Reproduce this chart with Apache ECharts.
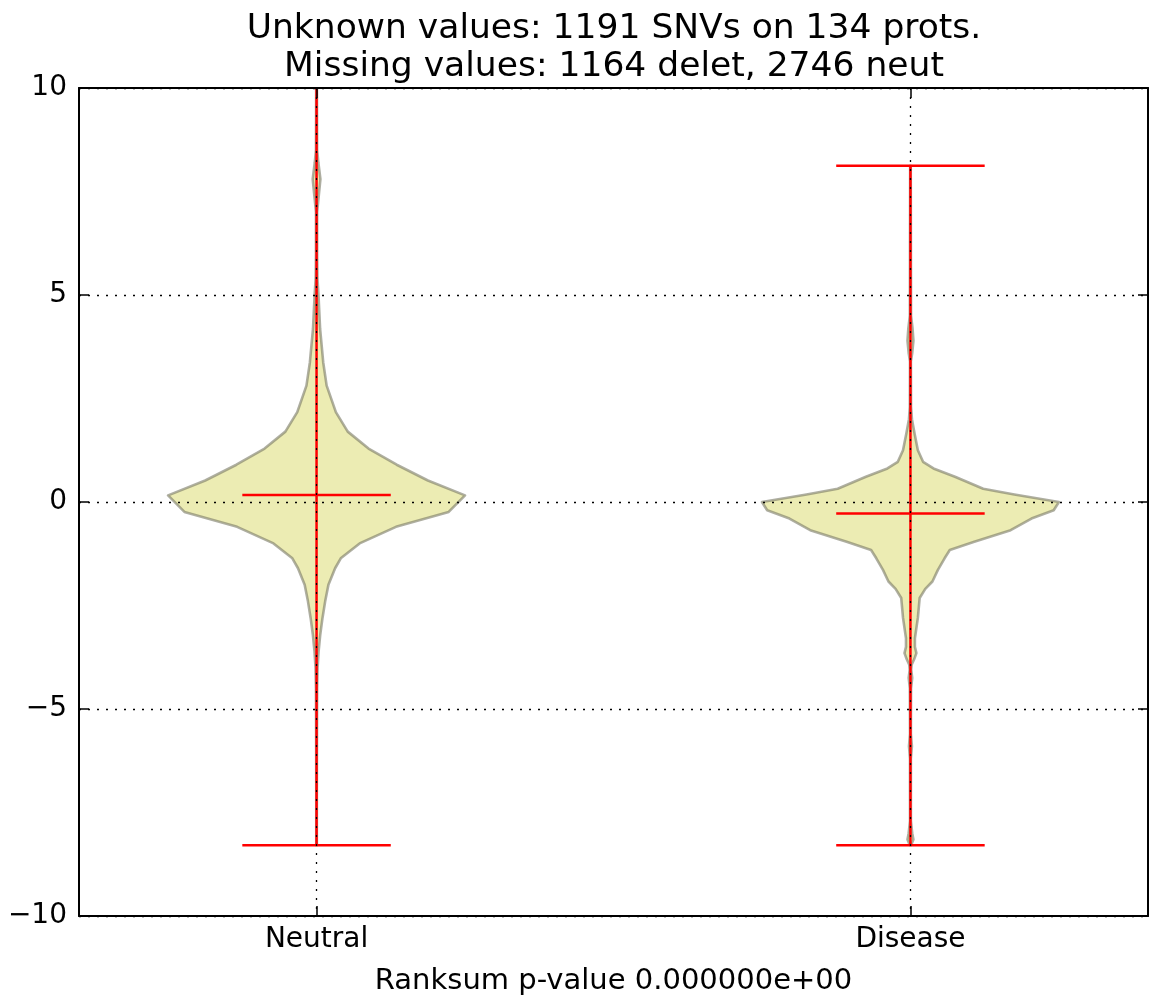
<!DOCTYPE html>
<html>
<head>
<meta charset="utf-8">
<title>Violin plot</title>
<script src="https://cdn.jsdelivr.net/npm/echarts@6/dist/echarts.min.js"></script>
<style>
  html, body { margin: 0; padding: 0; background: #fff; }
  #chart { width: 1154px; height: 1001px; }
</style>
</head>
<body>
<div id="chart"></div>
<script>
// Groups and where they sit on the x axis
const categories = ['Neutral', 'Disease'];
const positions = [1, 2];

// Kernel density profiles: y value and density scaled so the widest point is 1
const neutralY = [-8.29, -7.0, -5.5, -4.5, -4.0, -3.6, -3.2, -2.8, -2.4, -2.0, -1.6, -1.36, -1.0, -0.6, -0.24, 0.16,
  0.52, 0.9, 1.29, 1.7, 2.17, 2.81, 3.37, 4.18, 5.0, 5.4, 6.0, 7.0, 7.3, 7.8, 8.2, 8.5, 9.5, 10.9];
const neutralDensity = [0.002, 0.002, 0.003, 0.004, 0.007, 0.014, 0.025, 0.04, 0.058, 0.08, 0.125, 0.163, 0.29, 0.535, 0.89, 1.0,
  0.75, 0.54, 0.35, 0.21, 0.13, 0.068, 0.045, 0.024, 0.013, 0.006, 0.004, 0.004, 0.012, 0.026, 0.012, 0.004, 0.003, 0.002];

const diseaseY = [-8.29, -8.15, -8.0, -7.7, -6.2, -5.9, -5.6, -4.5, -4.25, -4.05, -3.93, -3.8, -3.65, -3.5, -3.29, -2.8, -2.32,
  -2.1, -1.92, -1.64, -1.36, -1.16, -0.96, -0.68, -0.4, -0.2, 0.0, 0.18, 0.32, 0.61, 0.81, 0.97, 1.25, 1.65, 2.0, 2.3,
  3.4, 3.6, 3.9, 4.2, 4.5, 8.12];
const diseaseDensity = [0.004, 0.02, 0.012, 0.003, 0.003, 0.01, 0.003, 0.004, 0.012, 0.005, 0.008, 0.025, 0.04, 0.03, 0.03, 0.05, 0.062,
  0.1, 0.148, 0.185, 0.23, 0.265, 0.43, 0.675, 0.815, 0.965, 1.0, 0.7, 0.49, 0.30, 0.155, 0.085, 0.05, 0.028, 0.01, 0.004,
  0.003, 0.012, 0.02, 0.014, 0.004, 0.002];

// Summary statistics drawn in red
const minValues = [-8.29, -8.29];
const maxValues = [10.9, 8.12];
const medianValues = [0.17, -0.28];

// Axis ticks and texts
const yTicks = [-10, -5, 0, 5, 10];
const xTitle = 'Ranksum p-value 0.000000e+00';
const titleLines = ['Unknown values: 1191 SNVs on 134 prots.', 'Missing values: 1164 delet, 2746 neut'];

const profilesY = [neutralY, diseaseY];
const profilesD = [neutralDensity, diseaseDensity];
const VIOLIN_HALF = 0.25;   // half of the violin width, in x units
const CAP_HALF = 0.125;     // half length of the red extrema / median bars

const FONT = 'DejaVu Sans';
const gridDots = { color: '#000', width: 1.3, type: [2, 7] };

const chart = echarts.init(document.getElementById('chart'), null, { renderer: 'canvas' });

const minus = v => (v < 0 ? '\u2212' + Math.abs(v) : String(v));

const option = {
  animation: false,
  backgroundColor: '#fff',
  title: {
    text: titleLines.join('\n'),
    left: 609,
    textAlign: 'center',
    top: 5,
    textStyle: { fontFamily: FONT, fontSize: 34.5, fontWeight: 'normal', color: '#000', lineHeight: 38 }
  },
  grid: { left: 79, right: 6, top: 88, bottom: 82, containLabel: false },
  xAxis: [
    {
      type: 'value', position: 'bottom', min: 0.6, max: 2.4, z: 10,
      name: xTitle, nameLocation: 'middle', nameGap: 51,
      nameTextStyle: { fontFamily: FONT, fontSize: 29, color: '#000' },
      axisLine: { show: true, onZero: false, lineStyle: { color: '#000', width: 2 } },
      axisTick: { show: true, inside: true, length: 10, customValues: positions, lineStyle: { color: '#000', width: 1.5 } },
      axisLabel: {
        show: true, margin: 10, customValues: positions,
        fontFamily: FONT, fontSize: 28, color: '#000',
        formatter: v => { const i = positions.findIndex(p => Math.abs(p - v) < 1e-6); return i >= 0 ? categories[i] : ''; }
      },
      splitLine: { show: true, lineStyle: gridDots }
    },
    {
      type: 'value', position: 'top', min: 0.6, max: 2.4, z: 10,
      axisLine: { show: true, onZero: false, lineStyle: { color: '#000', width: 2 } },
      axisTick: { show: true, inside: true, length: 10, customValues: positions, lineStyle: { color: '#000', width: 1.5 } },
      axisLabel: { show: false },
      splitLine: { show: false }
    }
  ],
  yAxis: [
    {
      type: 'value', position: 'left', min: -10, max: 10, interval: 5, z: 10,
      axisLine: { show: true, onZero: false, lineStyle: { color: '#000', width: 2 } },
      axisTick: { show: true, inside: true, length: 10, lineStyle: { color: '#000', width: 1.5 } },
      axisLabel: { show: true, margin: 12, fontFamily: FONT, fontSize: 28, color: '#000', formatter: minus },
      splitLine: { show: true, lineStyle: gridDots }
    },
    {
      type: 'value', position: 'right', min: -10, max: 10, interval: 5, z: 10,
      axisLine: { show: true, onZero: false, lineStyle: { color: '#000', width: 2 } },
      axisTick: { show: true, inside: true, length: 10, lineStyle: { color: '#000', width: 1.5 } },
      axisLabel: { show: false },
      splitLine: { show: false }
    }
  ],
  series: [
    {
      // violin bodies
      type: 'custom',
      clip: true,
      z: 2,
      data: positions.map((p, i) => [p, i]),
      renderItem: (params, api) => {
        const i = api.value(1);
        const pos = api.value(0);
        const ys = profilesY[i];
        const ds = profilesD[i];
        const pts = [];
        for (let k = 0; k < ys.length; k++) pts.push(api.coord([pos - ds[k] * VIOLIN_HALF, ys[k]]));
        for (let k = ys.length - 1; k >= 0; k--) pts.push(api.coord([pos + ds[k] * VIOLIN_HALF, ys[k]]));
        return {
          type: 'polygon',
          shape: { points: pts },
          style: { fill: 'rgb(236,236,179)', stroke: 'rgba(120,120,100,0.6)', lineWidth: 2.6, lineJoin: 'round' }
        };
      }
    },
    {
      // extrema bars and medians
      type: 'custom',
      clip: true,
      z: 3,
      data: positions.map((p, i) => [p, minValues[i], maxValues[i], medianValues[i]]),
      renderItem: (params, api) => {
        const pos = api.value(0);
        const lo = api.value(1), hi = api.value(2), med = api.value(3);
        const st = { stroke: '#ff0000', lineWidth: 2.5 };
        const seg = (x1, y1, x2, y2) => {
          const a = api.coord([x1, y1]), b = api.coord([x2, y2]);
          return { type: 'line', shape: { x1: a[0], y1: a[1], x2: b[0], y2: b[1] }, style: st };
        };
        return {
          type: 'group',
          children: [
            seg(pos, lo, pos, hi),
            seg(pos - CAP_HALF, lo, pos + CAP_HALF, lo),
            seg(pos - CAP_HALF, hi, pos + CAP_HALF, hi),
            seg(pos - CAP_HALF, med, pos + CAP_HALF, med)
          ]
        };
      }
    }
  ]
};

chart.setOption(option);
</script>
</body>
</html>
